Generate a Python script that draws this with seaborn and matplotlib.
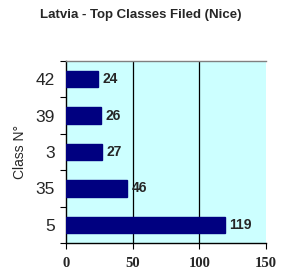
import matplotlib
matplotlib.use("Agg")
import matplotlib.pyplot as plt
import seaborn as sns
import pandas as pd
import numpy as np

classes = ["42", "39", "3", "35", "5"]
counts = [24, 26, 27, 46, 119]
xticks = [0, 50, 100, 150]

sns.set_style("white")
plt.rcParams['font.family'] = ['Liberation Sans', 'DejaVu Sans']

fig = plt.figure(figsize=(2.82, 2.77), dpi=100)
ax = fig.add_axes([66/282, 1-243/277, 200/282, 182/277])
ax.set_facecolor("#CCFFFF")

df = pd.DataFrame({"cls": classes, "n": counts})
sns.barplot(data=df, x="n", y="cls", order=classes, color="#000080",
            width=0.45, saturation=1, ax=ax, edgecolor="#000080", zorder=3)

ax.set_xlim(0, 150)
ax.set_ylim(len(classes)-0.5, -0.5)
ax.set_xticks(xticks)
ax.set_xticklabels([str(v) for v in xticks], fontfamily="Liberation Serif",
                   fontweight="bold", fontsize=10.5)
for v in xticks[1:-1]:
    ax.axvline(v, color="black", lw=0.9, zorder=1)

ax.tick_params(axis="x", direction="out", length=4, width=0.8, color="black", pad=6)
ax.tick_params(axis="y", which="major", length=0, pad=8, labelsize=12.5)
ax.set_yticks(np.arange(-0.5, len(classes), 1), minor=True)
ax.tick_params(axis="y", which="minor", direction="out", length=4, width=0.8, color="black")
ax.xaxis.set_ticks_position("bottom")
ax.yaxis.set_ticks_position("left")

for s in ["left", "bottom"]:
    ax.spines[s].set_color("black")
    ax.spines[s].set_linewidth(1)
ax.spines["top"].set_color("#808080")
ax.spines["top"].set_linewidth(1)
ax.spines["right"].set_visible(False)

for i, v in enumerate(counts):
    ax.text(v + 3.5, i, str(v), va="center", ha="left", fontsize=10,
            fontweight="bold", zorder=4)

ax.set_xlabel("")
ax.set_ylabel("Class N°", fontsize=10, labelpad=6)
fig.suptitle("Latvia - Top Classes Filed (Nice)", x=0.5, y=1-15/277,
             va="center", fontsize=9.5, fontweight="bold")

fig.savefig("out.png", dpi=100, facecolor="white")
